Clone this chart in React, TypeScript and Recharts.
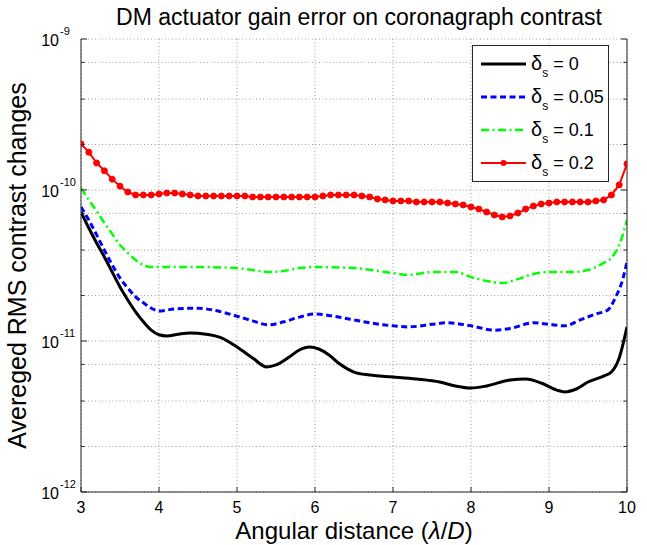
import { LineChart, Line, XAxis, YAxis, CartesianGrid, Legend } from "recharts";

const FONT = "'Liberation Sans', Arial, Helvetica, sans-serif";
const AXIS_COLOR = "#262626";
const GRID_COLOR = "#9a9a9a";

const TITLE = "DM actuator gain error on coronagraph contrast";
const Y_LABEL = "Avereged RMS contrast changes";

const xTicks = [3, 4, 5, 6, 7, 8, 9, 10];
const yDecades = [1e-12, 1e-11, 1e-10];
const yMultipliers = [1, 2, 3, 4, 5, 6, 7, 8, 9];
const yMajor = [1e-12, 1e-11, 1e-10, 1e-9];
const yMajorExp = ["-12", "-11", "-10", "-9"];
// every decade line plus the 2..9 minor lines (used for grid + tick marks)
const yTicks = [...yDecades.flatMap((d) => yMultipliers.map((m) => m * d)), 1e-9];

const seriesLabels = ["0", "0.05", "0.1", "0.2"];

// delta_s = 0
const gain0X = [3.0, 3.1, 3.2, 3.3, 3.4, 3.5, 3.6, 3.7, 3.8, 3.9, 4.0, 4.1, 4.25, 4.4, 4.6, 4.8, 5.0, 5.2, 5.38, 5.5, 5.67, 5.8, 5.93, 6.05, 6.18, 6.3, 6.5, 6.7, 7.0, 7.3, 7.6, 7.8, 8.0, 8.2, 8.5, 8.7, 8.9, 9.1, 9.2, 9.35, 9.5, 9.7, 9.8, 9.9, 10.0];
const gain0Y = [7.15e-11, 5.6e-11, 4.46e-11, 3.6e-11, 2.86e-11, 2.28e-11, 1.87e-11, 1.56e-11, 1.34e-11, 1.18e-11, 1.1e-11, 1.08e-11, 1.11e-11, 1.13e-11, 1.11e-11, 1.05e-11, 9.13e-12, 7.72e-12, 6.73e-12, 6.94e-12, 7.83e-12, 8.72e-12, 9.13e-12, 8.85e-12, 8.08e-12, 7.15e-12, 6.23e-12, 5.95e-12, 5.78e-12, 5.6e-12, 5.35e-12, 5.04e-12, 4.88e-12, 5.04e-12, 5.52e-12, 5.6e-12, 5.27e-12, 4.73e-12, 4.6e-12, 4.81e-12, 5.35e-12, 5.86e-12, 6.23e-12, 7.72e-12, 1.24e-11];

// delta_s = 0.05
const gain005X = [3.0, 3.1, 3.2, 3.3, 3.4, 3.5, 3.6, 3.7, 3.8, 3.9, 4.0, 4.2, 4.5, 4.7, 5.0, 5.2, 5.4, 5.6, 5.8, 6.0, 6.3, 6.5, 6.7, 7.0, 7.2, 7.5, 7.7, 8.0, 8.3, 8.5, 8.8, 9.0, 9.2, 9.4, 9.6, 9.75, 9.85, 9.95, 10.0];
const gain005Y = [7.72e-11, 6.33e-11, 5.04e-11, 4.0e-11, 3.19e-11, 2.61e-11, 2.24e-11, 1.96e-11, 1.79e-11, 1.65e-11, 1.58e-11, 1.63e-11, 1.65e-11, 1.6e-11, 1.46e-11, 1.36e-11, 1.28e-11, 1.34e-11, 1.44e-11, 1.51e-11, 1.44e-11, 1.38e-11, 1.32e-11, 1.26e-11, 1.24e-11, 1.29e-11, 1.32e-11, 1.26e-11, 1.18e-11, 1.21e-11, 1.32e-11, 1.29e-11, 1.26e-11, 1.38e-11, 1.51e-11, 1.6e-11, 1.93e-11, 2.61e-11, 3.34e-11];

// delta_s = 0.1
const gain01X = [3.0, 3.1, 3.2, 3.3, 3.4, 3.5, 3.6, 3.7, 3.8, 3.9, 4.5, 5.0, 5.2, 5.4, 5.6, 5.8, 6.0, 6.5, 7.0, 7.2, 7.5, 7.8, 8.0, 8.2, 8.4, 8.6, 8.8, 9.0, 9.3, 9.5, 9.7, 9.8, 9.9, 10.0];
const gain01Y = [1.03e-10, 8.59e-11, 7.26e-11, 6.05e-11, 5.11e-11, 4.32e-11, 3.83e-11, 3.44e-11, 3.19e-11, 3.09e-11, 3.09e-11, 3.04e-11, 2.95e-11, 2.86e-11, 2.91e-11, 3.04e-11, 3.09e-11, 3.04e-11, 2.82e-11, 2.74e-11, 2.86e-11, 2.86e-11, 2.65e-11, 2.5e-11, 2.42e-11, 2.57e-11, 2.78e-11, 2.86e-11, 2.86e-11, 2.95e-11, 3.29e-11, 3.55e-11, 4.32e-11, 6.33e-11];

// delta_s = 0.2 (sampled every 0.1, drawn with markers)
const gain02X = [3.0, 3.1, 3.2, 3.3, 3.4, 3.5, 3.6, 3.7, 3.8, 3.9, 4.0, 4.1, 4.2, 4.3, 4.4, 4.5, 4.6, 4.7, 4.8, 4.9, 5.0, 5.1, 5.2, 5.3, 5.4, 5.5, 5.6, 5.7, 5.8, 5.9, 6.0, 6.1, 6.2, 6.3, 6.4, 6.5, 6.6, 6.7, 6.8, 6.9, 7.0, 7.1, 7.2, 7.3, 7.4, 7.5, 7.6, 7.7, 7.8, 7.9, 8.0, 8.1, 8.2, 8.3, 8.4, 8.5, 8.6, 8.7, 8.8, 8.9, 9.0, 9.1, 9.2, 9.3, 9.4, 9.5, 9.6, 9.7, 9.8, 9.9, 10.0];
const gain02Y = [2.02e-10, 1.78e-10, 1.51e-10, 1.34e-10, 1.18e-10, 1.06e-10, 9.7e-11, 9.27e-11, 9.27e-11, 9.27e-11, 9.41e-11, 9.55e-11, 9.55e-11, 9.41e-11, 9.27e-11, 9.13e-11, 9.13e-11, 9.13e-11, 9.13e-11, 9.13e-11, 9.13e-11, 9.13e-11, 8.99e-11, 8.99e-11, 8.99e-11, 8.99e-11, 8.99e-11, 8.99e-11, 8.99e-11, 8.99e-11, 8.99e-11, 9.13e-11, 9.27e-11, 9.27e-11, 9.27e-11, 9.27e-11, 9.13e-11, 8.99e-11, 8.72e-11, 8.59e-11, 8.46e-11, 8.46e-11, 8.46e-11, 8.33e-11, 8.33e-11, 8.33e-11, 8.33e-11, 8.2e-11, 8.08e-11, 7.96e-11, 7.72e-11, 7.48e-11, 7.15e-11, 6.83e-11, 6.63e-11, 6.73e-11, 7.04e-11, 7.48e-11, 7.83e-11, 8.08e-11, 8.2e-11, 8.33e-11, 8.33e-11, 8.33e-11, 8.33e-11, 8.33e-11, 8.46e-11, 8.59e-11, 9.27e-11, 1.08e-10, 1.49e-10];

const toPoints = (xs: number[], ys: number[]) => xs.map((x, i) => ({ x, y: ys[i] }));

const majorIndex = (v: number) => yMajor.findIndex((m) => Math.abs(m - v) / m < 1e-6);

const YTickLeft = (props: any) => {
  const { x, y, payload } = props;
  const idx = majorIndex(payload.value);
  const len = idx >= 0 ? 6 : 3.5;
  return (
    <g>
      <line x1={x} x2={x + len} y1={y} y2={y} stroke={AXIS_COLOR} />
      {idx >= 0 && (
        <g>
          <text x={x - 22} y={y + 7} fontSize={16} fontFamily={FONT} textAnchor="end" fill="#000">
            10
          </text>
          <text x={x - 21} y={y - 4} fontSize={11} fontFamily={FONT} textAnchor="start" fill="#000">
            {yMajorExp[idx]}
          </text>
        </g>
      )}
    </g>
  );
};

const YTickRight = (props: any) => {
  const { x, y, payload } = props;
  const len = majorIndex(payload.value) >= 0 ? 6 : 3.5;
  return <line x1={x} x2={x - len} y1={y} y2={y} stroke={AXIS_COLOR} />;
};

const XTickBottom = (props: any) => {
  const { x, y, payload } = props;
  return (
    <g>
      <line x1={x} x2={x} y1={y} y2={y - 5} stroke={AXIS_COLOR} />
      <text x={x} y={y + 21} fontSize={16} fontFamily={FONT} textAnchor="middle" fill="#000">
        {payload.value}
      </text>
    </g>
  );
};

const XTickTop = (props: any) => {
  const { x, y } = props;
  return <line x1={x} x2={x} y1={y} y2={y + 5} stroke={AXIS_COLOR} />;
};

const XAxisTitle = (props: any) => {
  const { viewBox } = props;
  return (
    <text x={viewBox.x + viewBox.width / 2} y={viewBox.y + 47} fontSize={24} fontFamily={FONT} textAnchor="middle" fill="#000">
      <tspan>Angular distance (</tspan>
      <tspan fontStyle="italic">{"\u03bb"}</tspan>
      <tspan>/</tspan>
      <tspan fontStyle="italic">D</tspan>
      <tspan>)</tspan>
    </text>
  );
};

// y-axis title plus the chart title (drawn in absolute chart coordinates)
const YAxisTitle = (props: any) => {
  const { viewBox } = props;
  const cx = 26;
  const cy = viewBox.y + viewBox.height / 2;
  return (
    <g>
      <text x={cx} y={cy} transform={`rotate(-90, ${cx}, ${cy})`} fontSize={25} fontFamily={FONT} textAnchor="middle" fill="#000">
        {Y_LABEL}
      </text>
      <text x={359} y={viewBox.y - 14} fontSize={23} fontFamily={FONT} textAnchor="middle" fill="#000">
        {TITLE}
      </text>
    </g>
  );
};

const legendStyles = [
  { color: "#000000", width: 3, dash: undefined, dot: false },
  { color: "#0000ff", width: 3, dash: "6 3.5", dot: false },
  { color: "#00ff00", width: 2.5, dash: "8 3.5 2 3.5", dot: false },
  { color: "#ff0000", width: 2, dash: undefined, dot: true },
];

const LegendBox = () => (
  <svg width={137} height={137} style={{ display: "block" }}>
    <rect x={0.5} y={0.5} width={136} height={136} fill="#fff" stroke={AXIS_COLOR} />
    {seriesLabels.map((label, i) => {
      const cy = 19 + i * 33;
      const s = legendStyles[i];
      return (
        <g key={label}>
          <line x1={9} x2={54} y1={cy} y2={cy} stroke={s.color} strokeWidth={s.width} strokeDasharray={s.dash} />
          {s.dot && <circle cx={31.5} cy={cy} r={3} fill={s.color} />}
          <text x={59} y={cy + 6} fontFamily={FONT} fill="#000">
            <tspan fontSize={20}>{"\u03b4"}</tspan>
            <tspan fontSize={12} dy={7}>s</tspan>
            <tspan fontSize={18} dy={-7}>{` = ${label}`}</tspan>
          </text>
        </g>
      );
    })}
  </svg>
);

export default function App() {
  return (
    <div style={{ position: "absolute", left: 0, top: 0, background: "#fff" }}>
      <LineChart width={647} height={545} margin={{ top: 39, right: 10, bottom: 0, left: 0 }}>
        <CartesianGrid
          horizontalValues={yTicks}
          verticalValues={xTicks}
          stroke={GRID_COLOR}
          strokeDasharray="1 2.5"
        />
        <XAxis
          type="number"
          dataKey="x"
          domain={[3, 10]}
          ticks={xTicks}
          height={53}
          tickSize={0}
          tickMargin={0}
          tickLine={false}
          tick={<XTickBottom />}
          axisLine={{ stroke: AXIS_COLOR }}
          allowDataOverflow
          label={<XAxisTitle />}
        />
        <XAxis
          xAxisId="top"
          orientation="top"
          type="number"
          dataKey="x"
          domain={[3, 10]}
          ticks={xTicks}
          height={0}
          tickSize={0}
          tickMargin={0}
          tickLine={false}
          tick={<XTickTop />}
          axisLine={{ stroke: AXIS_COLOR }}
          allowDataOverflow
        />
        <YAxis
          type="number"
          scale="log"
          domain={[1e-12, 1e-9]}
          ticks={yTicks}
          width={81}
          tickSize={0}
          tickMargin={0}
          tickLine={false}
          tick={<YTickLeft />}
          axisLine={{ stroke: AXIS_COLOR }}
          allowDataOverflow
          label={<YAxisTitle />}
        />
        <YAxis
          yAxisId="right"
          orientation="right"
          type="number"
          scale="log"
          domain={[1e-12, 1e-9]}
          ticks={yTicks}
          width={10}
          tickSize={0}
          tickMargin={0}
          tickLine={false}
          tick={<YTickRight />}
          axisLine={{ stroke: AXIS_COLOR }}
          allowDataOverflow
        />
        <Line
          data={toPoints(gain0X, gain0Y)}
          dataKey="y"
          type="monotone"
          stroke="#000000"
          strokeWidth={3}
          dot={false}
          isAnimationActive={false}
        />
        <Line
          data={toPoints(gain005X, gain005Y)}
          dataKey="y"
          type="monotone"
          stroke="#0000ff"
          strokeWidth={3}
          strokeDasharray="6 3.5"
          dot={false}
          isAnimationActive={false}
        />
        <Line
          data={toPoints(gain01X, gain01Y)}
          dataKey="y"
          type="monotone"
          stroke="#00ff00"
          strokeWidth={2.5}
          strokeDasharray="8 3.5 2 3.5"
          dot={false}
          isAnimationActive={false}
        />
        <Line
          data={toPoints(gain02X, gain02Y)}
          dataKey="y"
          type="linear"
          stroke="#ff0000"
          strokeWidth={2}
          dot={{ r: 3, fill: "#ff0000", stroke: "#ff0000", strokeWidth: 1 }}
          isAnimationActive={false}
        />
        <Legend
          layout="vertical"
          align="center"
          verticalAlign="middle"
          content={<LegendBox />}
          wrapperStyle={{ left: 472, top: 45, width: 137, height: 137 }}
        />
      </LineChart>
    </div>
  );
}
